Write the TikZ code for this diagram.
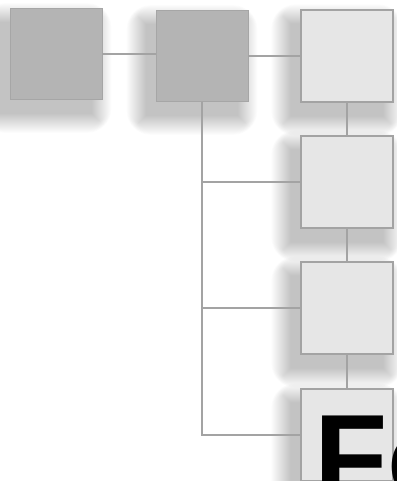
\documentclass[tikz,border=0pt]{standalone}
\usepackage{fontspec}
\newfontfamily\headfont{Liberation Sans}
\usetikzlibrary{backgrounds}
\definecolor{boxdark}{HTML}{B4B4B4}
\definecolor{boxlight}{HTML}{E6E6E6}
\definecolor{edgegray}{HTML}{A3A3A3}
\tikzset{
  darkbox/.style={draw=boxdark!92!black,line width=0.6pt,fill=boxdark,minimum width=92pt,minimum height=91pt,inner sep=0pt},
  lightbox/.style={draw=edgegray,line width=1.2pt,fill=boxlight,minimum width=92pt,minimum height=92pt,inner sep=0pt},
  link/.style={draw=edgegray,line width=1.5pt},
  softshade/.style={fill=black,opacity=0.011}
}
\begin{document}
\begin{tikzpicture}[x=1pt,y=1pt]
\useasboundingbox (0,0) rectangle (396,481);
\clip (0,0) rectangle (396,481);
% boxes
\node[darkbox] (b1) at (56,427) {};
\node[darkbox] (b2) at (202,425) {};
\node[lightbox] (b3) at (347,425) {};
\node[lightbox] (b4) at (347,299) {};
\node[lightbox] (b5) at (347,173) {};
\node[lightbox] (b6) at (347,46) {};
% soft shadows
\begin{scope}[on background layer]
\fill[white] (0,0) rectangle (396,481);
\foreach \b in {b1,b2,b3,b4,b5,b6}
  \foreach \s [evaluate=\s as \e using 2*\s-14,evaluate=\s as \r using {max(2*\s-14,0.5)}] in {0,...,19}
    \path[softshade,rounded corners=\r pt]
      ([shift={(-10-\e,-14-\e)}]\b.south west) rectangle ([shift={(-10+\e,-14+\e)}]\b.north east);
\end{scope}
% links
\draw[link] (b1.east) -- (b1.east -| b2.west);
\draw[link] (b2.east) -- (b3.west);
\draw[link] (b3) -- (b4);
\draw[link] (b4) -- (b5);
\draw[link] (b5) -- (b6);
\draw[link] (b2.south) |- (b6.west);
\draw[link] (b2.south |- b4.west) -- (b4.west);
\draw[link] (b2.south |- b5.west) -- (b5.west);
% heading
\node[anchor=base west,inner sep=0pt] (head) at (314,-17)
  {\headfont\bfseries\fontsize{120}{120}\selectfont Fo};
\end{tikzpicture}
\end{document}
